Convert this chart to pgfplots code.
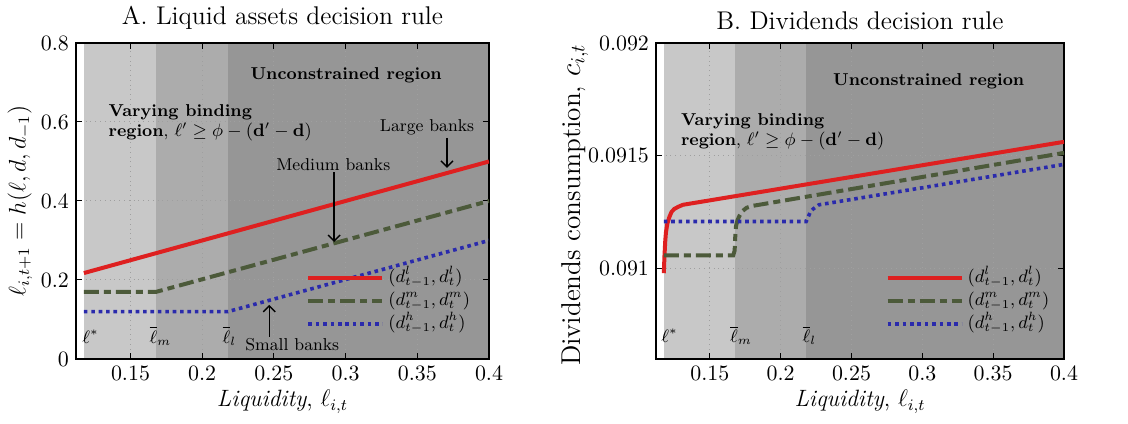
\documentclass[border=0pt]{standalone}
\usepackage{pgfplots}
\pgfplotsset{compat=1.18}
\usetikzlibrary{arrows.meta}

\definecolor{cred}{RGB}{222,32,32}
\definecolor{cgreen}{RGB}{76,90,58}
\definecolor{cblue}{RGB}{42,42,172}
\definecolor{gA}{RGB}{200,200,200}
\definecolor{gB}{RGB}{172,172,172}
\definecolor{gC}{RGB}{150,150,150}

\newcommand{\annfont}{\fontsize{8.6}{10.2}\selectfont}

\tikzset{
  arr/.style={-{Straight Barb[length=3pt,width=6pt]}, line width=0.7pt, black},
  lred/.style={cred, line width=2pt},
  lgreen/.style={cgreen, line width=2pt, dash pattern=on 7.5pt off 2.5pt on 3.5pt off 2.5pt},
  lblue/.style={cblue, line width=1.8pt, dash pattern=on 1.8pt off 1.9pt},
}

\pgfplotsset{
  panel/.style={
    scale only axis,
    height=158pt,
    set layers,
    xmin=0.112, xmax=0.4,
    xtick={0.15,0.2,0.25,0.3,0.35,0.4},
    tick align=inside,
    major tick length=3pt,
    tick style={black, line width=0.5pt},
    axis line style={line width=0.6pt},
    grid=major,
    major grid style={dotted, gray!75, line width=0.5pt},
    scaled ticks=false,
    /pgf/number format/.cd, fixed, precision=4, /pgfplots/.cd,
    ticklabel style={font=\fontsize{10.5}{12}\selectfont},
    title style={font=\fontsize{12.8}{14}\selectfont, yshift=-3pt},
    xlabel style={font=\fontsize{11.8}{13}\selectfont, yshift=2pt},
    ylabel style={font=\fontsize{11.8}{13}\selectfont, yshift=-2.5pt},
    xlabel={\textit{Liquidity}, $\ell_{i,t}$},
    legend cell align=left,
    legend image code/.code={\draw[##1] (0pt,0pt) -- (37pt,0pt);},
    legend style={draw=none, fill=none, font=\annfont, anchor=north west,
      row sep=1.5pt, inner sep=0pt,
      nodes={inner xsep=2pt, inner ysep=0.5pt, text height=6.5pt, text depth=2.5pt}},
  },
}

\begin{document}
\begin{tikzpicture}

% ---------------- Panel A ----------------
\begin{axis}[panel,
  at={(38pt,32.5pt)}, anchor=south west,
  width=206.5pt,
  ymin=0, ymax=0.8,
  ytick={0,0.2,0.4,0.6,0.8},
  title={A. Liquid assets decision rule},
  ylabel={$\ell_{i,t+1} = h(\ell, d, d_{-1})$},
  legend style={at={(0.557,0.289)}},
]
\addplot[on layer=axis background, fill=gA, draw=none, forget plot]
  coordinates {(0.1175,0) (0.1175,0.8) (0.168,0.8) (0.168,0)} -- cycle;
\addplot[on layer=axis background, fill=gB, draw=none, forget plot]
  coordinates {(0.168,0) (0.168,0.8) (0.218,0.8) (0.218,0)} -- cycle;
\addplot[on layer=axis background, fill=gC, draw=none, forget plot]
  coordinates {(0.218,0) (0.218,0.8) (0.4,0.8) (0.4,0)} -- cycle;

\addplot[lred] coordinates {(0.1175,0.2175) (0.4,0.5)};
\addlegendentry{$(d^l_{t-1}, d^l_t)$}
\addplot[lgreen] coordinates {(0.1175,0.17) (0.168,0.17) (0.4,0.4)};
\addlegendentry{$(d^m_{t-1}, d^m_t)$}
\addplot[lblue] coordinates {(0.1175,0.12) (0.218,0.12) (0.4,0.3)};
\addlegendentry{$(d^h_{t-1}, d^h_t)$}

\node[font=\annfont\bfseries] at (axis cs:0.3004,0.719) {Unconstrained region};
\node[font=\annfont, align=left, anchor=north west, inner sep=0pt] at (axis cs:0.1345,0.645)
  {\textbf{Varying binding}\\ \textbf{region}, $\ell' \geq \phi - (\mathbf{d}' - \mathbf{d})$};
\node[font=\annfont] at (axis cs:0.3568,0.587) {Large banks};
\draw[arr] (axis cs:0.3707,0.56) -- (axis cs:0.3707,0.484);
\node[font=\annfont] at (axis cs:0.2914,0.491) {Medium banks};
\draw[arr] (axis cs:0.292,0.473) -- (axis cs:0.292,0.296);
\node[font=\annfont] at (axis cs:0.2628,0.036) {Small banks};
\draw[arr] (axis cs:0.2468,0.056) -- (axis cs:0.2468,0.137);
\node[font=\annfont, anchor=base] at (axis cs:0.1222,0.04) {$\ell^{*}$};
\node[font=\annfont, anchor=base] at (axis cs:0.1709,0.04) {$\overline{\ell}_m$};
\node[font=\annfont, anchor=base] at (axis cs:0.2190,0.04) {$\overline{\ell}_l$};
\end{axis}

% ---------------- Panel B ----------------
\begin{axis}[panel,
  at={(328pt,32.5pt)}, anchor=south west,
  width=204pt,
  ymin=0.0906, ymax=0.092,
  ytick={0.091,0.0915,0.092},
  title={B. Dividends decision rule},
  ylabel={Dividends consumption, $c_{i,t}$},
  ylabel style={font=\fontsize{13.6}{16}\selectfont, yshift=-4.5pt, xshift=-2pt},
  legend style={at={(0.562,0.289)}},
]
\addplot[on layer=axis background, fill=gA, draw=none, forget plot]
  coordinates {(0.1175,0.0906) (0.1175,0.092) (0.168,0.092) (0.168,0.0906)} -- cycle;
\addplot[on layer=axis background, fill=gB, draw=none, forget plot]
  coordinates {(0.168,0.0906) (0.168,0.092) (0.218,0.092) (0.218,0.0906)} -- cycle;
\addplot[on layer=axis background, fill=gC, draw=none, forget plot]
  coordinates {(0.218,0.0906) (0.218,0.092) (0.4,0.092) (0.4,0.0906)} -- cycle;

\addplot[lred] coordinates {
  (0.1175,0.09098) (0.118,0.09106) (0.1185,0.09112) (0.119,0.09116)
  (0.120,0.09120) (0.1215,0.09123) (0.123,0.091252) (0.125,0.091265)
  (0.128,0.091275) (0.131,0.091283) (0.4,0.091562)};
\addlegendentry{$(d^l_{t-1}, d^l_t)$}
\addplot[lgreen] coordinates {
  (0.1175,0.091059) (0.1665,0.091059) (0.1675,0.09108) (0.168,0.09115)
  (0.1685,0.09119) (0.1695,0.091215) (0.171,0.091235) (0.173,0.091255)
  (0.176,0.09127) (0.18,0.091278) (0.4,0.091513)};
\addlegendentry{$(d^m_{t-1}, d^m_t)$}
\addplot[lblue] coordinates {
  (0.1175,0.091209) (0.218,0.091209) (0.2195,0.09123) (0.221,0.091252)
  (0.223,0.091265) (0.227,0.091283) (0.4,0.091462)};
\addlegendentry{$(d^h_{t-1}, d^h_t)$}

\node[font=\annfont\bfseries] at (axis cs:0.3045,0.091832) {Unconstrained region};
\node[font=\annfont, align=left, anchor=north west, inner sep=0pt] at (axis cs:0.1294,0.09169)
  {\textbf{Varying binding}\\ \textbf{region}, $\ell' \geq \phi - (\mathbf{d}' - \mathbf{d})$};
\node[font=\annfont, anchor=base] at (axis cs:0.1216,0.090673) {$\ell^{*}$};
\node[font=\annfont, anchor=base] at (axis cs:0.1720,0.090673) {$\overline{\ell}_m$};
\node[font=\annfont, anchor=base] at (axis cs:0.2203,0.090673) {$\overline{\ell}_l$};
\end{axis}
\path (0pt,0pt) rectangle (564pt,209.5pt);
\end{tikzpicture}
\end{document}
